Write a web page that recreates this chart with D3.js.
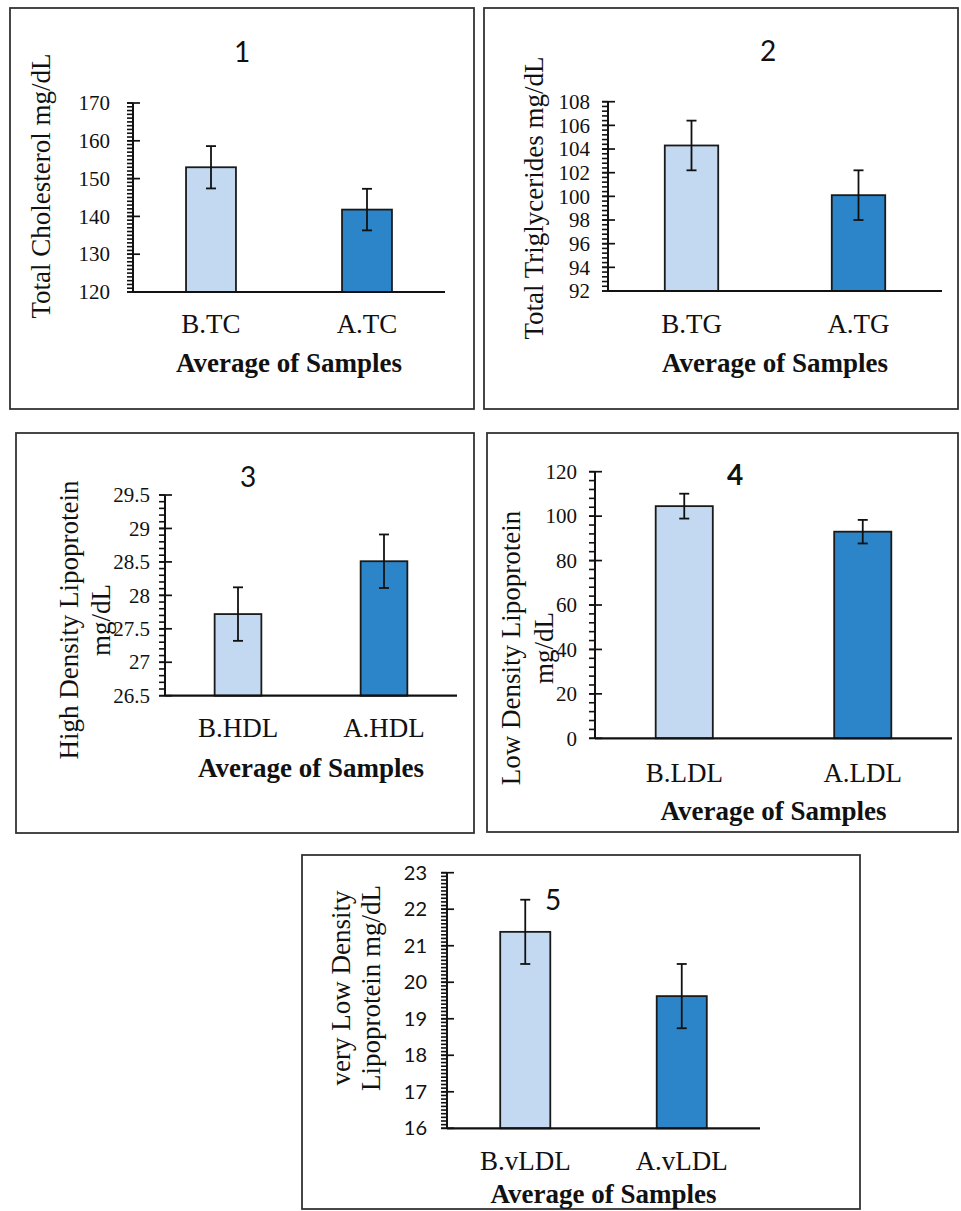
<!DOCTYPE html>
<html>
<head>
<meta charset="utf-8">
<script src="https://cdn.jsdelivr.net/npm/d3@7"></script>
<style>
  body { margin: 0; background: #fff; }
  svg { display: block; }
  .serif { font-family: "Liberation Serif", "Times New Roman", serif; }
  .sans  { font-family: Lato, "Open Sans", sans-serif; }
</style>
</head>
<body>
<svg id="chart" width="961" height="1211"></svg>
<script>
// values (mean +/- error bar)
const panelNames = ['1', '2', '3', '4', '5'];
const categories = [
  ['B.TC', 'A.TC'],
  ['B.TG', 'A.TG'],
  ['B.HDL', 'A.HDL'],
  ['B.LDL', 'A.LDL'],
  ['B.vLDL', 'A.vLDL']
];
const means  = [[153, 141.8], [104.3, 100.1], [27.72, 28.51], [104.5, 93], [21.38, 19.62]];
const errors = [[5.6, 5.5], [2.1, 2.1], [0.4, 0.4], [5.6, 5.3], [0.88, 0.88]];
const yDomains   = [[120, 170], [92, 108], [26.5, 29.5], [0, 120], [16, 23]];
const majorSteps = [10, 2, 0.5, 20, 1];
const minorSteps = [1, 0.4, 0.1, 4, 0.1];
const yTitles = [
  ['Total Cholesterol mg/dL'],
  ['Total Triglycerides mg/dL'],
  ['High Density Lipoprotein', 'mg/dL'],
  ['Low Density Lipoprotein', 'mg/dL'],
  ['very Low Density', 'Lipoprotein mg/dL']
];
const xTitle = 'Average of Samples';
const barColors = ['#c2d9f1', '#2b85c8'];

// page layout of each panel (pixels)
const layout = [
  {box: [10, 8, 474, 409],   x0: 133, x1: 445, yTop: 103,   yBot: 292,    gap: 23, tickFs: 21, tickFont: 'serif',
   title: [242, 62], titleBold: false, catY: 333, xtY: 372, ytX: [50], ytY: 186},
  {box: [484, 8, 958, 409],  x0: 608, x1: 942, yTop: 101.7, yBot: 291,    gap: 18, tickFs: 21, tickFont: 'serif',
   title: [768, 61], titleBold: false, catY: 333, xtY: 372, ytX: [543], ytY: 198},
  {box: [16, 433, 474, 833], x0: 165, x1: 457, yTop: 495,   yBot: 695.7,  gap: 15, tickFs: 21, tickFont: 'serif',
   title: [248, 487], titleBold: false, catY: 737, xtY: 777, ytX: [78, 110], ytY: 620},
  {box: [487, 433, 958, 832], x0: 595, x1: 952, yTop: 471.7, yBot: 738.3, gap: 18, tickFs: 21, tickFont: 'serif',
   title: [735, 485], titleBold: true, catY: 782, xtY: 820, ytX: [520, 553], ytY: 648},
  {box: [302, 855, 860, 1209], x0: 447, x1: 760, yTop: 872.7, yBot: 1128.3, gap: 20, tickFs: 20, tickFont: 'sans',
   title: [553, 910], titleBold: false, catY: 1170, xtY: 1203, ytX: [350, 380], ytY: 988}
];

const svg = d3.select('#chart');
const fmt = d => String(+d.toFixed(2));
const ink = '#111';

panelNames.forEach((name, i) => {
  const L = layout[i];
  const g = svg.append('g');

  // frame
  g.append('rect')
    .attr('x', L.box[0]).attr('y', L.box[1])
    .attr('width', L.box[2] - L.box[0]).attr('height', L.box[3] - L.box[1])
    .attr('fill', 'none').attr('stroke', '#333').attr('stroke-width', 1.8);

  const x = d3.scaleBand()
    .domain(categories[i])
    .range([L.x0, L.x1])
    .paddingInner(0.68)
    .paddingOuter(0.34);

  const y = d3.scaleLinear()
    .domain(yDomains[i])
    .range([L.yBot, L.yTop]);

  const [lo, hi] = yDomains[i];
  const majors = d3.range(lo, hi + 1e-9, majorSteps[i]);
  const minors = d3.range(lo, hi + 1e-9, minorSteps[i]);

  // minor ticks, pointing out
  g.append('g').selectAll('line')
    .data(minors)
    .join('line')
      .attr('x1', L.x0 - 6).attr('x2', L.x0)
      .attr('y1', d => y(d)).attr('y2', d => y(d))
      .attr('stroke', ink).attr('stroke-width', 1.6);

  // major ticks, crossing the axis
  g.append('g').selectAll('line')
    .data(majors)
    .join('line')
      .attr('x1', L.x0 - 6).attr('x2', L.x0 + 7)
      .attr('y1', d => y(d)).attr('y2', d => y(d))
      .attr('stroke', ink).attr('stroke-width', 1.7);

  // labels
  const labAx = g.append('g')
    .attr('transform', `translate(${L.x0},0)`)
    .call(d3.axisLeft(y).tickValues(majors).tickSize(0).tickPadding(L.gap).tickFormat(fmt));
  labAx.select('.domain').remove();
  labAx.selectAll('text')
    .attr('class', L.tickFont)
    .attr('font-family', null)
    .style('font-size', L.tickFs + 'px')
    .attr('fill', ink);

  // bars
  g.selectAll('rect.bar')
    .data(categories[i])
    .join('rect')
      .attr('class', 'bar')
      .attr('x', d => x(d))
      .attr('width', x.bandwidth())
      .attr('y', (d, j) => y(means[i][j]))
      .attr('height', (d, j) => L.yBot - y(means[i][j]))
      .attr('fill', (d, j) => barColors[j])
      .attr('stroke', '#1a1a1a')
      .attr('stroke-width', 1.8);

  // axes lines
  g.append('line')
    .attr('x1', L.x0).attr('x2', L.x0).attr('y1', L.yTop).attr('y2', L.yBot)
    .attr('stroke', ink).attr('stroke-width', 2);
  g.append('line')
    .attr('x1', L.x0).attr('x2', L.x1).attr('y1', L.yBot).attr('y2', L.yBot)
    .attr('stroke', ink).attr('stroke-width', 2.2);

  // error bars
  const eb = g.selectAll('g.err')
    .data(categories[i])
    .join('g')
      .attr('class', 'err')
      .attr('stroke', ink)
      .attr('stroke-width', 1.8);
  const cx = d => x(d) + x.bandwidth() / 2;
  eb.append('line')
    .attr('x1', cx).attr('x2', cx)
    .attr('y1', (d, j) => y(means[i][j] + errors[i][j]))
    .attr('y2', (d, j) => y(means[i][j] - errors[i][j]));
  eb.append('line')
    .attr('x1', d => cx(d) - 5).attr('x2', d => cx(d) + 5)
    .attr('y1', (d, j) => y(means[i][j] + errors[i][j]))
    .attr('y2', (d, j) => y(means[i][j] + errors[i][j]));
  eb.append('line')
    .attr('x1', d => cx(d) - 5).attr('x2', d => cx(d) + 5)
    .attr('y1', (d, j) => y(means[i][j] - errors[i][j]))
    .attr('y2', (d, j) => y(means[i][j] - errors[i][j]));

  // category labels
  g.selectAll('text.cat')
    .data(categories[i])
    .join('text')
      .attr('class', 'cat serif')
      .attr('x', cx)
      .attr('y', L.catY)
      .attr('text-anchor', 'middle')
      .style('font-size', '27px')
      .attr('fill', ink)
      .text(d => d);

  // x title
  g.append('text')
    .attr('class', 'serif')
    .attr('x', (L.x0 + L.x1) / 2)
    .attr('y', L.xtY)
    .attr('text-anchor', 'middle')
    .style('font-size', '27px')
    .style('font-weight', 'bold')
    .attr('fill', ink)
    .text(xTitle);

  // y title (rotated)
  yTitles[i].forEach((line, k) => {
    g.append('text')
      .attr('class', 'serif')
      .attr('transform', `translate(${L.ytX[k]},${L.ytY}) rotate(-90)`)
      .attr('text-anchor', 'middle')
      .style('font-size', '27px')
      .attr('fill', ink)
      .text(line);
  });

  // panel number
  g.append('text')
    .attr('class', 'sans')
    .attr('x', L.title[0])
    .attr('y', L.title[1])
    .attr('text-anchor', 'middle')
    .style('font-size', '28px')
    .style('font-weight', L.titleBold ? 'bold' : 'normal')
    .attr('fill', ink)
    .text(name);
});
</script>
</body>
</html>
